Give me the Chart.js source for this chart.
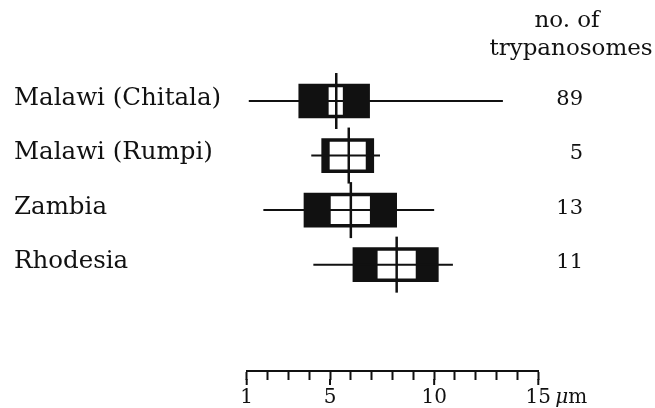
<!DOCTYPE html>
<html>
<head>
<meta charset="utf-8">
<script src="https://cdn.jsdelivr.net/npm/chart.js@4"></script>
<style>
  html, body { margin: 0; padding: 0; background: #fff; }
  #wrap { width: 655px; height: 408px; position: relative; }
</style>
</head>
<body>
<div id="wrap"><canvas id="chart"></canvas></div>
<script>
// Data (length in µm)
const regions = ['Malawi (Chitala)', 'Malawi (Rumpi)', 'Zambia', 'Rhodesia'];
const counts = [89, 5, 13, 11];
const rangeMin = [1.1, 4.1, 1.8, 4.2];
const rangeMax = [13.3, 7.4, 10.0, 10.9];
const outerLow = [3.5, 4.6, 3.75, 6.1];
const outerHigh = [6.9, 7.1, 8.2, 10.2];
const innerLow = [4.95, 5.0, 5.05, 7.3];
const innerHigh = [5.6, 6.7, 6.9, 9.1];
const means = [5.3, 5.9, 6.0, 8.2];
const labelledTicks = [1, 5, 10, 15];

const serif = '"DejaVu Serif", "Liberation Serif", serif';
const ink = '#111';

const toBars = (lo, hi) => lo.map((v, i) => ({ x: [v, hi[i]], y: i }));

// range and mean lines, row labels, counts, longer major ticks, header and unit
const extras = {
    id: 'extras',
    afterDatasetsDraw(chart) {
        const ctx = chart.ctx;
        const xs = chart.scales.x, ys = chart.scales.y;
        ctx.save();
        ctx.strokeStyle = ink;
        ctx.lineWidth = 2;
        regions.forEach((r, i) => {
            const y = ys.getPixelForValue(i);
            ctx.beginPath();
            ctx.moveTo(xs.getPixelForValue(rangeMin[i]), y);
            ctx.lineTo(xs.getPixelForValue(rangeMax[i]), y);
            ctx.stroke();
        });
        ctx.lineWidth = 2.5;
        regions.forEach((r, i) => {
            const y = ys.getPixelForValue(i);
            const x = xs.getPixelForValue(means[i]);
            ctx.beginPath();
            ctx.moveTo(x, y - 28);
            ctx.lineTo(x, y + 28);
            ctx.stroke();
        });
        ctx.restore();
    },
    afterDraw(chart) {
        const ctx = chart.ctx;
        const xs = chart.scales.x, ys = chart.scales.y;
        ctx.save();
        ctx.strokeStyle = ink;
        ctx.lineWidth = 2;
        labelledTicks.forEach(v => {
            const x = xs.getPixelForValue(v);
            ctx.beginPath();
            ctx.moveTo(x, xs.top + 8);
            ctx.lineTo(x, xs.top + 14);
            ctx.stroke();
        });
        ctx.fillStyle = ink;
        ctx.textBaseline = 'alphabetic';
        // row labels and counts
        regions.forEach((r, i) => {
            const y = ys.getPixelForValue(i) + 3.5;
            ctx.textAlign = 'left';
            ctx.font = '24.5px ' + serif;
            ctx.fillText(r, 14, y);
            ctx.textAlign = 'right';
            ctx.font = '21px ' + serif;
            ctx.fillText(String(counts[i]), 583, y);
        });
        ctx.textAlign = 'center';
        ctx.font = '23px ' + serif;
        ctx.fillText('no. of', 567, 27);
        ctx.fillText('trypanosomes', 571, 55);
        ctx.textAlign = 'left';
        ctx.font = 'italic 20px ' + serif;
        ctx.fillText('\u03bc', xs.right + 17, 403);
        const w = ctx.measureText('\u03bc').width;
        ctx.font = '20px ' + serif;
        ctx.fillText('m', xs.right + 17 + w, 403);
        ctx.restore();
    }
};

new Chart(document.getElementById('chart'), {
    type: 'bar',
    data: {
        datasets: [
            {
                data: toBars(innerLow, innerHigh),
                backgroundColor: '#fff',
                barThickness: 27,
                grouped: false,
                order: 0
            },
            {
                data: toBars(outerLow, outerHigh),
                backgroundColor: ink,
                barThickness: 34,
                grouped: false,
                order: 1
            }
        ]
    },
    options: {
        indexAxis: 'y',
        responsive: true,
        maintainAspectRatio: false,
        animation: false,
        layout: { padding: { top: 73.75, left: 246.7, right: 116.7, bottom: 0 } },
        plugins: { legend: { display: false }, tooltip: { enabled: false } },
        scales: {
            x: {
                type: 'linear',
                position: 'bottom',
                min: 1,
                max: 15,
                afterFit(scale) { scale.height = 37; },
                grid: { drawOnChartArea: false, tickLength: 9, tickWidth: 2, tickColor: ink },
                border: { display: true, color: ink, width: 2 },
                ticks: {
                    stepSize: 1,
                    autoSkip: false,
                    maxRotation: 0,
                    padding: 6,
                    color: ink,
                    font: { family: serif, size: 20 },
                    callback: v => labelledTicks.includes(v) ? String(v) : ''
                }
            },
            y: {
                type: 'linear',
                display: false,
                offset: false,
                reverse: true,
                min: -0.5,
                max: 4.95
            }
        }
    },
    plugins: [extras]
});
</script>
</body>
</html>
